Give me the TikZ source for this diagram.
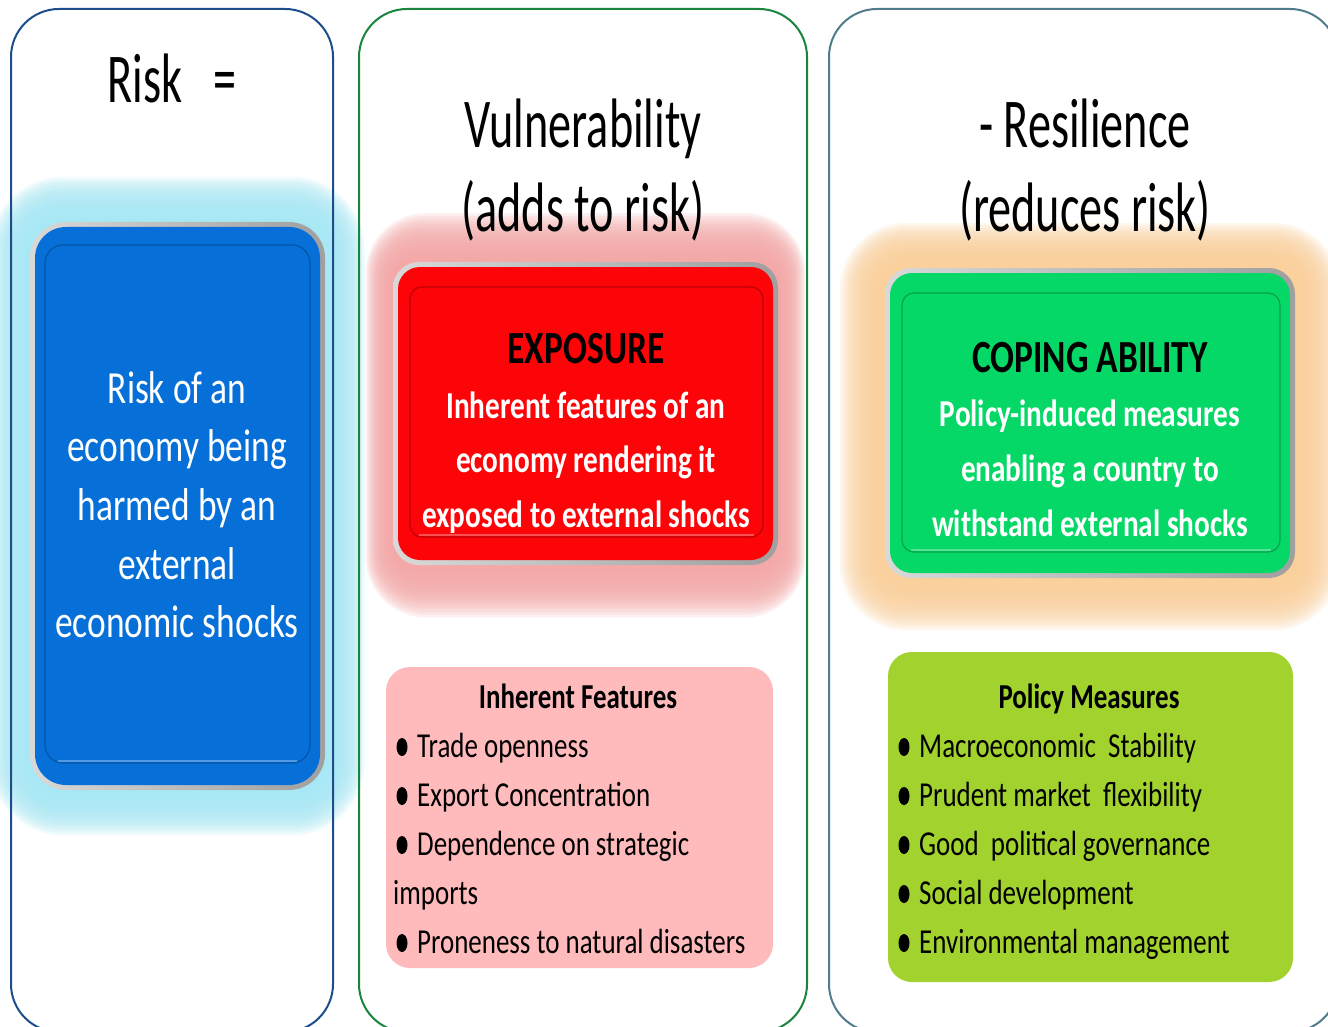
\documentclass[tikz,border=0pt]{standalone}
\usepackage{fontspec}
\setmainfont{Carlito}[FakeStretch=0.77]
\newfontfamily\hdfont{Carlito}[FakeStretch=0.66]
\usetikzlibrary{backgrounds}

\definecolor{riskblue}{RGB}{6,112,216}
\definecolor{expored}{RGB}{252,4,8}
\definecolor{copegreen}{RGB}{6,216,104}
\definecolor{glowcyan}{RGB}{168,232,245}
\definecolor{glowpink}{RGB}{244,168,168}
\definecolor{glowpeach}{RGB}{250,208,155}
\definecolor{featpink}{RGB}{255,186,188}
\definecolor{polgreen}{RGB}{162,210,46}
\definecolor{rimblue}{RGB}{28,78,140}
\definecolor{rimgreen}{RGB}{24,132,62}
\definecolor{rimteal}{RGB}{80,124,140}

\tikzset{
  panel/.style={line width=2pt, rounded corners=48pt},
  bezel/.style={rectangle, rounded corners=#1, inner sep=0pt,
    left color=gray!30, middle color=white, right color=gray!75},
  tile/.style={rectangle, fill=#1, inner sep=0pt},
  inset/.style={rectangle, rounded corners=12pt, fill=#1, draw=#1!75!black,
    line width=1.2pt, inner sep=0pt},
  listbox/.style={rectangle, rounded corners=24pt, inner sep=0pt},
  head/.style={font=\hdfont\fontsize{70}{84}\selectfont, anchor=base, inner sep=0pt},
  risktxt/.style={font=\fontsize{46}{50}\selectfont, text=white, anchor=base, inner sep=0pt},
  boxhead/.style={font=\bfseries\fontsize{46}{50}\selectfont, anchor=base, inner sep=0pt},
  boxtxt/.style={font=\bfseries\fontsize{38}{44}\selectfont, text=white, anchor=base, inner sep=0pt},
  listhead/.style={font=\bfseries\fontsize{35}{40}\selectfont, anchor=base, inner sep=0pt},
  item/.style={font=\fontsize{35}{40}\selectfont, anchor=base west, inner sep=0pt},
  halo/.style={#1, opacity=.17},
}

\begin{document}
\begin{tikzpicture}[x=1pt, y=-1pt]
\useasboundingbox (0,0) rectangle (1328,1027);

% the three columns
\draw[panel, rimblue] (11,9) rectangle (333,1032);
\draw[panel, rimgreen] (359,9) rectangle (807,1032);
\draw[panel, rimteal] (829,9) rectangle (1338,1032);

% headings
\node[head] (riskhd) at (172,103) {Risk\ \ \ =};
\node[head] (vulhd) at (583,148) {Vulnerability};
\node[head] (vulsub) at (583,232) {(adds to risk)};
\node[head] (reshd) at (1085,148) {- Resilience};
\node[head] (ressub) at (1085,232) {(reduces risk)};

% risk box
\node[bezel=36pt, minimum width=295, minimum height=568] (riskbz) at (177.5,506) {};
\node[tile=riskblue, rounded corners=31pt, minimum width=285, minimum height=558] (risk) at (riskbz) {};
\node[inset=riskblue, rounded corners=18pt, minimum width=265, minimum height=518] (riskin) at (177.5,504) {};
\draw[riskblue!70!white, line width=2.5pt] ([xshift=14pt, yshift=2.5pt]riskin.south west) -- ([xshift=-14pt, yshift=2.5pt]riskin.south east);
\foreach \ln [count=\i] in {Risk of an, economy being, harmed by an, external, economic shocks}
  \node[risktxt] (risk-\i) at (177,{403+58.7*(\i-1)}) {\ln};

% exposure box
\node[bezel=26pt, minimum width=385, minimum height=303] (expobz) at (585.5,413.5) {};
\node[tile=expored, rounded corners=22pt, minimum width=375, minimum height=293] (expo) at (expobz) {};
\node[inset=expored, minimum width=353, minimum height=250] (expoin) at (586.5,412) {};
\draw[expored!70!white, line width=2.5pt] ([xshift=10pt, yshift=2.5pt]expoin.south west) -- ([xshift=-10pt, yshift=2.5pt]expoin.south east);
\node[boxhead] (expo-t) at (586,363) {EXPOSURE};
\foreach \ln [count=\i] in {Inherent features of an, economy rendering it, exposed to external shocks}
  \node[boxtxt] (expo-\i) at (586,{418+54.5*(\i-1)}) {\ln};

% coping ability box
\node[bezel=26pt, minimum width=410, minimum height=310] (copebz) at (1090,423) {};
\node[tile=copegreen, rounded corners=22pt, minimum width=400, minimum height=300] (cope) at (copebz) {};
\node[inset=copegreen, minimum width=378, minimum height=259] (copein) at (1091,422.5) {};
\draw[copegreen!70!white, line width=2.5pt] ([xshift=10pt, yshift=2.5pt]copein.south west) -- ([xshift=-10pt, yshift=2.5pt]copein.south east);
\node[boxhead] (cope-t) at (1090,372) {COPING ABILITY};
\foreach \ln [count=\i] in {Policy-induced measures, enabling a country to, withstand external shocks}
  \node[boxtxt] (cope-\i) at (1090,{426+55*(\i-1)}) {\ln};

% inherent features list
\node[listbox, fill=featpink, minimum width=387, minimum height=301] (feat) at (579.5,817.5) {};
\node[listhead] (feat-t) at (578,708) {Inherent Features};
\foreach \y/\ln [count=\i] in {757/Trade openness, 806/Export Concentration, 855/Dependence on strategic, 953/Proneness to natural disasters} {
  \fill (402,\y-10) ellipse [x radius=5.5, y radius=9];
  \node[item] (feat-\i) at (417,\y) {\ln};
}
\node[item] (feat-cont) at (393,904) {imports};

% policy measures list
\node[listbox, fill=polgreen, minimum width=405, minimum height=330] (pol) at (1090.5,817) {};
\node[listhead] (pol-t) at (1089,708) {Policy Measures};
\foreach \y/\ln [count=\i] in {757/Macroeconomic\ \ Stability, 806/Prudent market\ \ flexibility, 855/Good\ \ political governance, 904/Social development, 953/Environmental management} {
  \fill (904,\y-10) ellipse [x radius=5.5, y radius=9];
  \node[item] (pol-\i) at (919,\y) {\ln};
}

% soft halos behind the boxes
\begin{scope}[on background layer]
  \fill[white] (0,0) rectangle (1328,1027);
  \foreach \k in {1,...,18} {
    \fill[halo=glowcyan, rounded corners=30+2.4*\k]
      ([xshift=-2.2*\k pt, yshift=2.5*\k pt]riskbz.north west) rectangle ([xshift=2.2*\k pt, yshift=-2.5*\k pt]riskbz.south east);
    \fill[halo=glowpink, rounded corners=24+2*\k]
      ([xshift=-1.5*\k pt, yshift=2.7*\k pt]expobz.north west) rectangle ([xshift=1.5*\k pt, yshift=-2.9*\k pt]expobz.south east);
    \fill[halo=glowpeach, rounded corners=24+2.4*\k]
      ([xshift=-2.5*\k pt, yshift=2.5*\k pt]copebz.north west) rectangle ([xshift=2.5*\k pt, yshift=-2.9*\k pt]copebz.south east);
  }
\end{scope}
\end{tikzpicture}
\end{document}
